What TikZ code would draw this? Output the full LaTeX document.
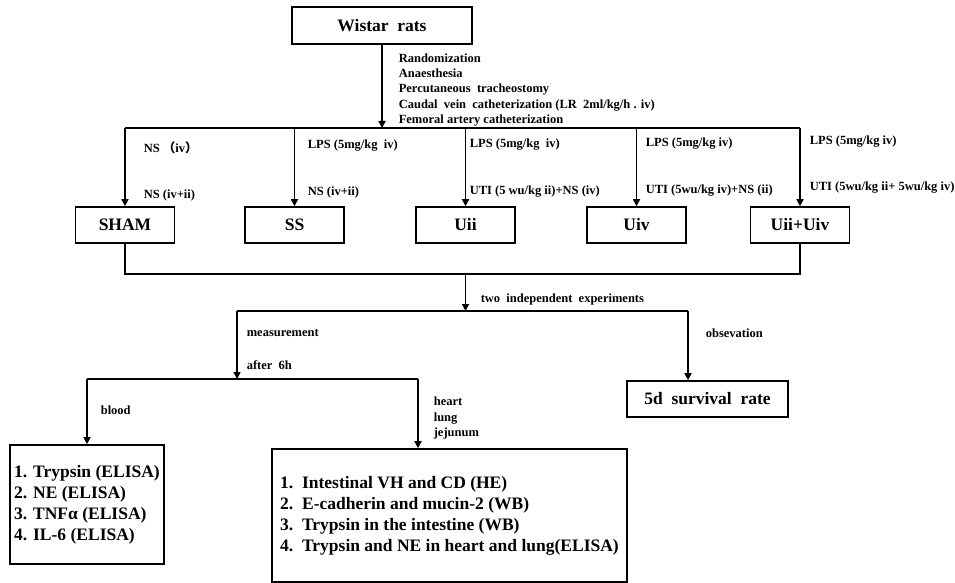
\documentclass[tikz,border=0pt]{standalone}
\usepackage{fontspec}
\setmainfont{Liberation Serif}
\newfontfamily\cjk{Noto Sans CJK SC}
\usepackage{tikz}
\usetikzlibrary{shapes,positioning,arrows,arrows.meta,calc}
\newcommand{\dsp}{\ \ }

\begin{document}
\begin{tikzpicture}[x=1pt, y=-1pt, line width=1.6pt,
  box/.style={draw, line width=1.6pt, inner sep=0pt, minimum height=36pt,
    font=\fontsize{17.5}{21}\selectfont\bfseries},
  lbl/.style={anchor=west, inner sep=0pt, align=left,
    font=\fontsize{12.5}{15.2}\selectfont\bfseries},
  arr/.style={-{Triangle[length=7pt,width=7pt]}}]
\useasboundingbox (0,0) rectangle (955,583);
% Boxes
\node[box, minimum width=180pt, minimum height=37pt] (wistar) at (382,25.5) {Wistar\dsp rats};
\node[box, minimum width=99pt] (sham) at (125,225) {SHAM};
\node[box, minimum width=99pt] (ss) at (294.5,225) {SS};
\node[box, minimum width=99pt] (uii) at (465.5,225) {Uii};
\node[box, minimum width=99pt] (uiv) at (636.5,225) {Uiv};
\node[box, minimum width=99pt] (uiiuiv) at (800,225) {Uii+Uiv};
\node[box, minimum width=161pt] (surv) at (707.5,399) {5d\dsp survival\dsp rate};
\node[box, minimum width=154pt, minimum height=119pt, align=left] (blood) at (87,504.5)
  {1. Trypsin (ELISA)\\2. NE (ELISA)\\3. TNFα (ELISA)\\4. IL-6 (ELISA)};
\node[box, minimum width=355pt, minimum height=133pt, align=left] (assay) at (449.5,515.5)
  {1.\dsp Intestinal VH and CD (HE)\\2.\dsp E-cadherin and mucin-2 (WB)\\3.\dsp Trypsin in the intestine (WB)\\4.\dsp Trypsin and NE in heart and lung(ELISA)};
% Junctions
\coordinate (tline) at (0,128);
\coordinate (mline) at (0,274);
\coordinate (meas) at (237,311);
\coordinate (obs) at (688,311);
\coordinate (six) at (237,379);
\coordinate (organ) at (418,379);
% Randomization into groups
\draw[arr] (wistar) -- (wistar |- tline);
\draw (sham.north |- tline) -- (uiiuiv.north |- tline);
\foreach \b in {sham,ss,uii,uiv,uiiuiv}
  \draw[arr] (\b.north |- tline) -- (\b.north);
\node[lbl] (proc) at (398,90) {Randomization\\Anaesthesia\\Percutaneous\dsp tracheostomy\\Caudal\dsp vein\dsp catheterization (LR\dsp 2ml/kg/h . iv)\\Femoral artery catheterization};
% Group treatments
\node[lbl] (sham1) at (143,148) {NS {\cjk（}iv{\cjk）}};
\node[lbl] (sham2) at (143,195) {NS (iv+ii)};
\node[lbl] (ss1) at (307,146) {LPS (5mg/kg\dsp iv)};
\node[lbl] (ss2) at (307,192) {NS (iv+ii)};
\node[lbl] (uii1) at (469,145) {LPS (5mg/kg\dsp iv)};
\node[lbl] (uii2) at (469,192) {UTI (5 wu/kg ii)+NS (iv)};
\node[lbl] (uiv1) at (645,144) {LPS (5mg/kg iv)};
\node[lbl] (uiv2) at (645,191) {UTI (5wu/kg iv)+NS (ii)};
\node[lbl] (both1) at (809,142) {LPS (5mg/kg iv)};
\node[lbl] (both2) at (809,188) {UTI (5wu/kg ii+ 5wu/kg iv)};
% Merge and experiments
\draw (sham.south) |- (uiiuiv.south |- mline) -- (uiiuiv.south);
\draw[arr] (uii.south |- mline) -- (uii.south |- meas);
\node[lbl] (two) at (480,299) {two\dsp independent\dsp experiments};
\draw (meas) -- (obs);
\draw[arr] (meas) -- (six);
\draw[arr] (obs) -- (obs |- surv.north);
\node[lbl] (measl) at (246,333) {measurement};
\node[lbl] (after) at (246,365) {after\dsp 6h};
\node[lbl] (obsl) at (705,333) {obsevation};
% Sampling
\draw (blood.north |- six) -- (organ);
\draw[arr] (blood.north |- six) -- (blood.north);
\draw[arr] (organ) -- (organ |- assay.north);
\node[lbl] (bloodl) at (100,410) {blood};
\node[lbl] (organs) at (433,418) {heart\\lung\\jejunum};
\end{tikzpicture}
\end{document}
